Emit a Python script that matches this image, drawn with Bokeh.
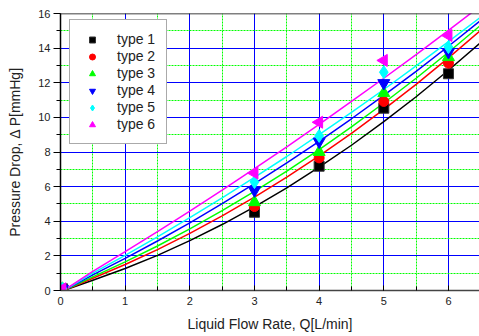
from bokeh.plotting import figure
from bokeh.models import Range1d, Legend, LegendItem, Span
from bokeh.embed import file_html
from bokeh.resources import INLINE
import math

# ---- data ----
x_meas = [0.03, 3, 4, 5, 6]
type1 = [0.1, 4.52, 7.18, 10.53, 12.52]
type2 = [0.1, 4.85, 7.66, 10.92, 13.13]
type3 = [0.1, 5.10, 8.00, 11.40, 13.48]
type4 = [0.1, 5.78, 8.60, 11.98, 13.77]
type5 = [0.1, 6.26, 8.93, 12.61, 14.06]
type6 = [0.1, 6.78, 9.72, 13.29, 14.73]

x_fit = [0.05, 0.5, 1, 1.5, 2, 2.5, 3, 3.5, 4, 4.5, 5, 5.5, 6, 6.5]
fit1 = [0, 0.59, 1.27, 2.03, 2.88, 3.81, 4.83, 5.93, 7.12, 8.39, 9.75, 11.19, 12.72, 14.33]
fit2 = [0, 0.71, 1.50, 2.36, 3.30, 4.31, 5.39, 6.55, 7.78, 9.08, 10.46, 11.91, 13.44, 15.04]
fit3 = [0, 0.79, 1.65, 2.57, 3.56, 4.61, 5.72, 6.90, 8.14, 9.45, 10.83, 12.26, 13.76, 15.33]
fit4 = [0, 0.90, 1.86, 2.86, 3.91, 5.02, 6.17, 7.37, 8.62, 9.92, 11.27, 12.66, 14.11, 15.61]
fit5 = [0, 1.00, 2.03, 3.10, 4.21, 5.35, 6.53, 7.74, 9.00, 10.29, 11.61, 12.97, 14.37, 15.80]
fit6 = [0, 1.11, 2.24, 3.40, 4.59, 5.80, 7.04, 8.30, 9.60, 10.92, 12.26, 13.63, 15.03, 16.45]

labels = ["type 1", "type 2", "type 3", "type 4", "type 5", "type 6"]
colors = ["#000000", "#FF0000", "#00FF00", "#0000FF", "#00FFFF", "#FF00FF"]
markers = ["square", "circle", "triangle", "inverted_triangle", "diamond", "triangle"]
angles = [0, 0, 0, 0, 0, math.pi / 2]
sizes = [10, 10, 12, 12, 13, 12]

FONT = "Liberation Sans"

p = figure(width=479, height=336, output_backend="svg", toolbar_location=None,
           x_range=Range1d(0, 6.48), y_range=Range1d(0, 16),
           min_border_left=60, min_border_top=13, min_border_right=0,
           min_border_bottom=46)
p.outline_line_color = None
p.background_fill_color = "white"
p.border_fill_color = "white"

# grids
for g in (p.xgrid, p.ygrid):
    g.grid_line_color = "#0000FF"
    g.grid_line_width = 1
    g.minor_grid_line_color = "#00FF00"
    g.minor_grid_line_dash = "2 1"
    g.minor_grid_line_width = 1

p.xaxis.ticker.desired_num_ticks = 7
p.xaxis.ticker.num_minor_ticks = 2
p.yaxis.ticker.desired_num_ticks = 8
p.yaxis.ticker.num_minor_ticks = 2

# axes
p.yaxis.axis_label = "Pressure Drop, \u0394 P[mmHg]"
p.xaxis.axis_label = "Liquid Flow Rate, Q[L/min]"
for ax in (p.xaxis[0], p.yaxis[0]):
    ax.axis_label_text_font = FONT
    ax.axis_label_text_font_style = "normal"
    ax.axis_label_text_font_size = "14px"
    ax.axis_label_text_color = "#222222"
    ax.major_label_text_font = FONT
    ax.major_label_text_font_size = "11px"
    ax.major_label_text_color = "#222222"
p.yaxis.axis_line_color = "black"
p.yaxis.axis_line_width = 1.5
p.yaxis.major_tick_out = 7
p.yaxis.major_tick_in = 0
p.yaxis.minor_tick_out = 4
p.yaxis.minor_tick_in = 0
p.yaxis.major_label_standoff = 3
p.yaxis.axis_label_standoff = 12
p.xaxis.axis_line_color = "#444444"
p.xaxis.axis_line_width = 1.5
p.xaxis.major_tick_in = 5
p.xaxis.major_tick_out = 0
p.xaxis.minor_tick_in = 4
p.xaxis.minor_tick_out = 0
p.xaxis.major_label_standoff = 6
p.xaxis.axis_label_standoff = 8

p.add_layout(Span(location=16, dimension="width", line_color="black", line_width=1.5))

fits = [fit1, fit2, fit3, fit4, fit5, fit6]
types = [type1, type2, type3, type4, type5, type6]

for f, c in zip(fits, colors):
    p.line(x_fit, f, line_color=c, line_width=1.5)

items = []
for t, c, m, a, s, lab in zip(types, colors, markers, angles, sizes, labels):
    r = p.scatter(x_meas, t, marker=m, size=s, angle=a, fill_color=c,
                  line_color=("#333333" if c == "#000000" else c), line_width=1)
    items.append(LegendItem(label=lab, renderers=[r]))

legend = Legend(items=items, location=(9, 146), padding=11, spacing=1,
                glyph_height=15, glyph_width=22, label_height=15, label_standoff=14,
                label_text_font=FONT, label_text_font_size="14px",
                label_text_color="#222222", border_line_color="#555555",
                border_line_width=1, background_fill_color="white",
                background_fill_alpha=1, margin=0)
p.add_layout(legend, "center")

open("out.html", "w").write(file_html(p, INLINE))
